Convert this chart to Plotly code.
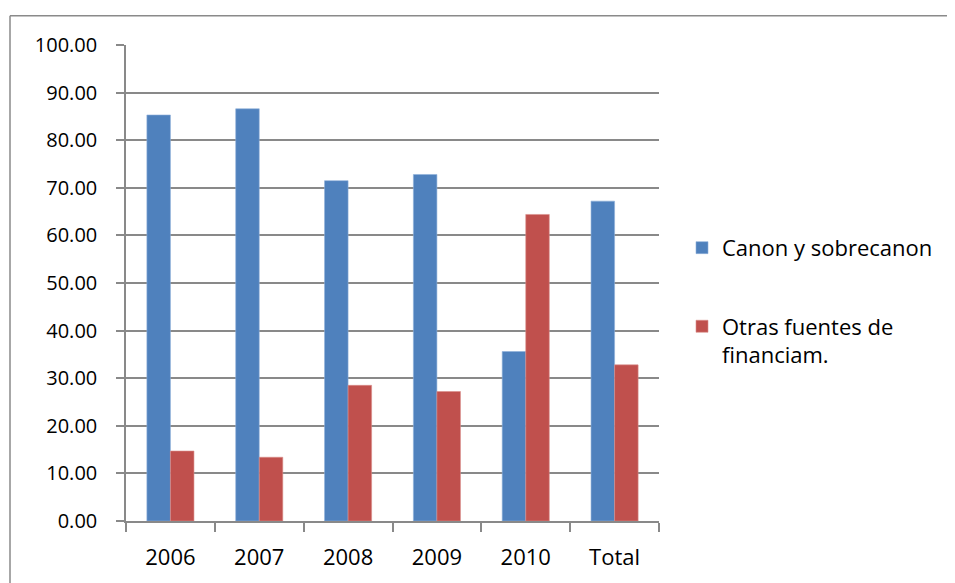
import plotly.graph_objects as go

categories = ["2006", "2007", "2008", "2009", "2010", "Total"]
canon = [85.3, 86.6, 71.5, 72.8, 35.6, 67.2]
otras = [14.7, 13.4, 28.5, 27.2, 64.4, 32.8]
series_names = ["Canon y sobrecanon", "Otras fuentes de<br>financiam."]
y_ticks = [0, 10, 20, 30, 40, 50, 60, 70, 80, 90, 100]

FONT = "Open Sans"
OFF = 8  # page body margin
W, H = 955 - OFF, 583 - OFF
L, T = 126 - OFF, 45 - OFF
pw, ph = 533, 479
R = W - L - pw
B = H - T - ph


def px_x(page_x):
    return (page_x - OFF - L) / pw


def px_y(page_y):
    return (T + ph - (page_y - OFF)) / ph


fig = go.Figure()
fig.add_trace(go.Bar(x=categories, y=canon, name=series_names[0],
                     marker=dict(color="#4F81BD", line=dict(color="#8FB0DA", width=0.6)),
                     legendgroup="a"))
fig.add_trace(go.Bar(x=categories, y=otras, name=series_names[1],
                     marker=dict(color="#C0504D", line=dict(color="#DA8E8C", width=0.6)),
                     legendgroup="b"))

border = "#8a8a8a"
shapes = [
    dict(type="line", xref="paper", yref="paper", x0=px_x(10), x1=px_x(960), y0=px_y(15.5), y1=px_y(15.5),
         line=dict(color=border, width=1.5)),
    dict(type="line", xref="paper", yref="paper", x0=px_x(10), x1=px_x(10), y0=px_y(15.5), y1=px_y(590),
         line=dict(color=border, width=1.5)),
]

fig.update_layout(
    width=W, height=H,
    margin=dict(l=L, r=R, t=T, b=B),
    paper_bgcolor="white", plot_bgcolor="white",
    font=dict(family=FONT, size=21, color="black"),
    barmode="group", bargap=0.47, bargroupgap=0,
    showlegend=True,
    legend=dict(x=px_x(682), y=px_y(228), xanchor="left", yanchor="top",
                font=dict(family=FONT, size=22, color="black"),
                valign="top", tracegroupgap=47, traceorder="grouped",
                bgcolor="rgba(0,0,0,0)"),
    shapes=shapes,
    xaxis=dict(type="category", showline=True, linecolor="#898989", linewidth=1.5,
               ticks="outside", tickson="boundaries", ticklen=9, tickcolor="#898989", tickwidth=1.5,
               showgrid=False, ticklabelstandoff=16,
               tickfont=dict(family=FONT, size=22, color="black")),
    yaxis=dict(range=[0, 100], tickvals=y_ticks, tickformat=".2f",
               showline=True, linecolor="#898989", linewidth=1.5,
               ticks="outside", ticklen=8, tickcolor="#898989", tickwidth=1.5,
               showgrid=True, gridcolor="#898989", gridwidth=1.5,
               zeroline=False, ticklabelstandoff=15,
               tickfont=dict(family=FONT, size=20, color="black")),
)

fig.write_html("out.html")
